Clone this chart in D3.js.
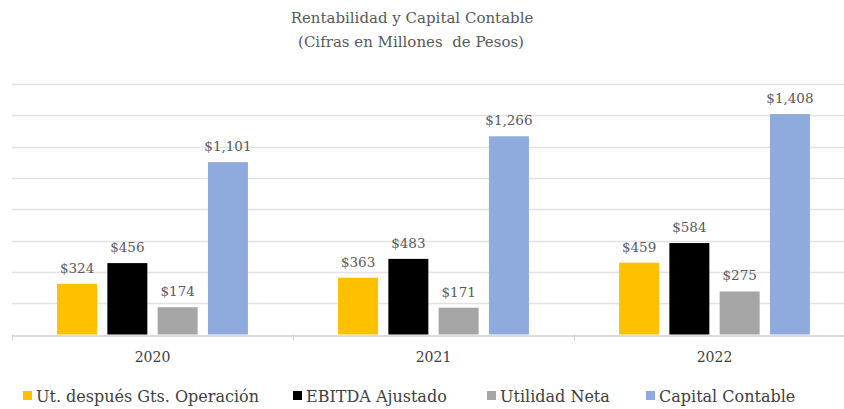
<!DOCTYPE html>
<html>
<head>
<meta charset="utf-8">
<script src="https://cdn.jsdelivr.net/npm/d3@7"></script>
<style>
  body { margin: 0; background: #fff; }
  svg text { font-family: "DejaVu Serif", "Liberation Serif", serif; }
</style>
</head>
<body>
<div id="chart"></div>
<script>
// Datos del grafico
var years = ["2020", "2021", "2022"];
var series = ["Ut. después Gts. Operación", "EBITDA Ajustado", "Utilidad Neta", "Capital Contable"];
var colores = ["#FFC000", "#000000", "#A5A5A5", "#8FAADC"];
var utOperacion = [324, 363, 459];
var ebitda = [456, 483, 584];
var utilidadNeta = [174, 171, 275];
var capital = [1101, 1266, 1408];
var yTicks = [0, 200, 400, 600, 800, 1000, 1200, 1400, 1600];

const width = 844, height = 409;
const margin = { top: 84, left: 12, bottom: 334.5 };
const fuente = "'DejaVu Serif', 'Liberation Serif', serif";

var svg = d3.select("#chart")
            .append("svg")
            .attr("width", width)
            .attr("height", height)
            .attr("font-family", fuente);

var valores = [utOperacion, ebitda, utilidadNeta, capital];
var filas = years.map(function(y, i) {
  return { year: y, vals: series.map(function(s, j) { return { serie: j, v: valores[j][i] }; }) };
});

// escalas
var x0 = d3.scaleBand()
  .domain(years)
  .range([margin.left, margin.left + 3 * 281]);

var x1 = d3.scaleBand()
  .domain(d3.range(series.length))
  .range([0, x0.bandwidth()])
  .paddingInner(0.205)
  .paddingOuter(0.896);

var y = d3.scaleLinear()
  .domain([0, 1600])
  .range([margin.bottom, margin.top]);

// lineas de cuadricula
svg.append("g")
  .selectAll("line")
  .data(yTicks.slice(1))
  .join("line")
  .attr("x1", margin.left)
  .attr("x2", width)
  .attr("y1", function(d) { return Math.round(y(d)) + 0.5; })
  .attr("y2", function(d) { return Math.round(y(d)) + 0.5; })
  .style("stroke", "#e3e3e3")
  .style("stroke-width", "1.3px");

// eje x
var ejeX = svg.append("g")
  .attr("transform", "translate(0," + (Math.round(y(0)) + 0.5) + ")")
  .call(d3.axisBottom(x0).tickSize(0).tickPadding(17));
ejeX.attr("font-family", fuente);
ejeX.select(".domain").style("stroke", "#d0d0d0").style("stroke-width", "1.3px");
ejeX.selectAll("text")
  .style("font-family", fuente)
  .style("font-size", "14px")
  .style("fill", "#404040");

// marcas de separacion
svg.append("g")
  .selectAll("line")
  .data(years.concat(["fin"]))
  .join("line")
  .attr("x1", function(d, i) { return margin.left + i * x0.step() + 0.5; })
  .attr("x2", function(d, i) { return margin.left + i * x0.step() + 0.5; })
  .attr("y1", y(0))
  .attr("y2", y(0) + 6)
  .style("stroke", "#d0d0d0");

// barras
var grupos = svg.append("g")
  .selectAll("g")
  .data(filas)
  .join("g")
  .attr("transform", function(d) { return "translate(" + x0(d.year) + ",0)"; });

grupos.selectAll("rect")
  .data(function(d) { return d.vals; })
  .join("rect")
  .attr("x", function(d) { return x1(d.serie); })
  .attr("width", x1.bandwidth())
  .attr("y", function(d) { return y(d.v); })
  .attr("height", function(d) { return y(0) - y(d.v); })
  .style("fill", function(d) { return colores[d.serie]; });

// etiquetas de valores
grupos.selectAll("text")
  .data(function(d) { return d.vals; })
  .join("text")
  .attr("x", function(d) { return x1(d.serie) + x1.bandwidth() / 2; })
  .attr("y", function(d) { return y(d.v) - 11; })
  .attr("text-anchor", "middle")
  .style("font-size", "13.5px")
  .style("fill", "#595959")
  .text(function(d) { return "$" + d3.format(",")(d.v); });

// titulo
var titulo = svg.append("g")
  .style("font-size", "15px")
  .style("fill", "#595959")
  .attr("text-anchor", "middle");
titulo.append("text").attr("x", 412).attr("y", 23).text("Rentabilidad y Capital Contable");
titulo.append("text").attr("x", 411).attr("y", 46.5).style("white-space", "pre").text("(Cifras en Millones  de Pesos)");

// leyenda
var leyendaX = [23, 293, 487, 646];
var leyenda = svg.append("g")
  .selectAll("g")
  .data(series)
  .join("g")
  .attr("transform", function(d, i) { return "translate(" + leyendaX[i] + ",391)"; });
leyenda.append("rect")
  .attr("width", 9)
  .attr("height", 9)
  .style("fill", function(d, i) { return colores[i]; });
leyenda.append("text")
  .attr("x", 13)
  .attr("y", 10.5)
  .style("font-size", "16px")
  .style("fill", "#404040")
  .text(function(d) { return d; });
</script>
</body>
</html>
